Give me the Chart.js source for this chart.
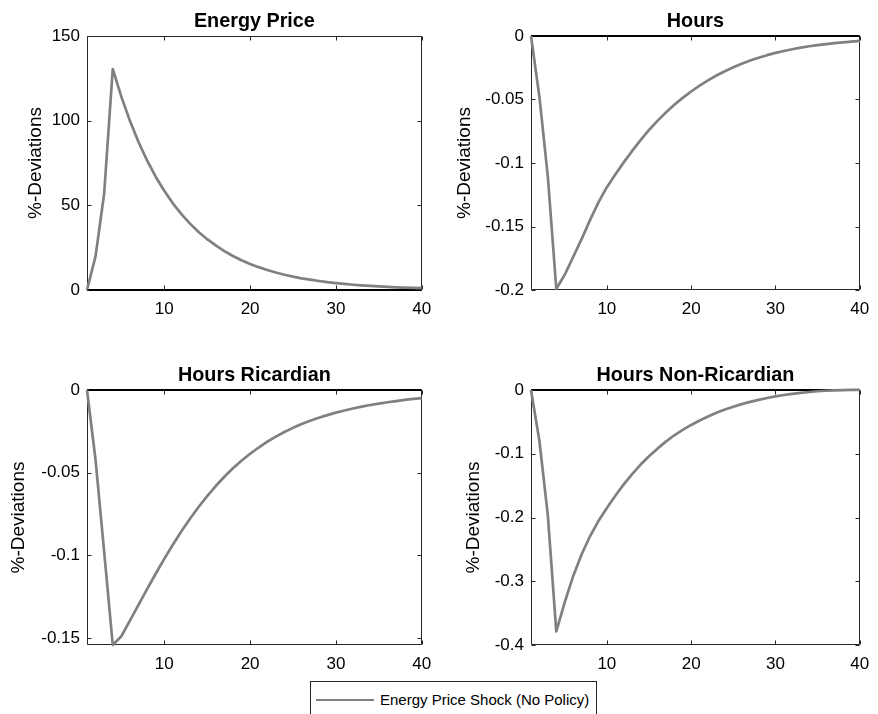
<!DOCTYPE html>
<html><head><meta charset="utf-8">
<script src="https://cdn.jsdelivr.net/npm/chart.js@4.4.1/dist/chart.umd.min.js"></script>
<style>
html,body{margin:0;padding:0;background:#fff;width:878px;height:714px;overflow:hidden;position:relative;font-family:"Liberation Sans",Arial,sans-serif;}
.pane{position:absolute;}
.pane canvas{display:block;}
#legend{position:absolute;left:310px;top:681px;width:287px;height:50px;border:1px solid #262626;background:#fff;box-sizing:border-box;}
#legend .swatch{position:absolute;left:5px;top:17px;width:58px;height:0;border-top:2.6px solid #808080;}
#legend .txt{position:absolute;left:69px;top:9px;font-size:15px;line-height:18px;color:#000;white-space:nowrap;}
</style></head><body>
<div class="pane" style="left:0;top:0"><canvas id="c1" width="440" height="340"></canvas></div>
<div class="pane" style="left:440px;top:0"><canvas id="c2" width="438" height="340"></canvas></div>
<div class="pane" style="left:0;top:354px"><canvas id="c3" width="440" height="340"></canvas></div>
<div class="pane" style="left:440px;top:354px"><canvas id="c4" width="438" height="340"></canvas></div>
<div id="legend"><div class="swatch"></div><div class="txt" id="legendText"></div></div>
<script>
// ---------------- data ----------------
const periods = [1,2,3,4,5,6,7,8,9,10,11,12,13,14,15,16,17,18,19,20,21,22,23,24,25,26,27,28,29,30,31,32,33,34,35,36,37,38,39,40];
const energyPrice = [0,20,57,130.5,114.2,99.9,87.4,76.5,66.9,58.6,51.2,44.8,39.2,34.3,30.0,26.3,23.0,20.1,17.6,15.4,13.5,11.8,10.3,9.0,7.9,6.9,6.1,5.3,4.6,4.1,3.6,3.1,2.7,2.4,2.1,1.8,1.6,1.4,1.2,1.1];
const hours = [0,-0.048,-0.111,-0.199,-0.188,-0.174,-0.160,-0.145,-0.131,-0.119,-0.109,-0.0995,-0.0905,-0.082,-0.074,-0.0668,-0.0602,-0.0542,-0.0487,-0.0437,-0.0391,-0.0349,-0.0311,-0.0277,-0.0246,-0.0218,-0.0193,-0.0171,-0.0151,-0.0133,-0.0118,-0.0104,-0.0092,-0.0081,-0.0072,-0.0064,-0.0056,-0.005,-0.0044,-0.0039];
const hoursRicardian = [0,-0.0425,-0.098,-0.1543,-0.149,-0.1395,-0.130,-0.1205,-0.1112,-0.1022,-0.0936,-0.0855,-0.0779,-0.0708,-0.0642,-0.0581,-0.0525,-0.0474,-0.0428,-0.0386,-0.0348,-0.0313,-0.0282,-0.0254,-0.0229,-0.0206,-0.0186,-0.0168,-0.0152,-0.0137,-0.0124,-0.0112,-0.0101,-0.0091,-0.0082,-0.0074,-0.0067,-0.006,-0.0054,-0.0049];
const hoursNonRicardian = [0,-0.08,-0.197,-0.3785,-0.333,-0.292,-0.258,-0.2295,-0.2055,-0.185,-0.166,-0.148,-0.132,-0.117,-0.104,-0.092,-0.081,-0.071,-0.0625,-0.0548,-0.0478,-0.0415,-0.0358,-0.0307,-0.0262,-0.0222,-0.0186,-0.0154,-0.0126,-0.0101,-0.0079,-0.006,-0.0044,-0.0031,-0.002,-0.0012,-0.0006,-0.0002,0.0001,0.0003];
const xTicks = [10,20,30,40];
const yTicksEnergy = [0,50,100,150];
const yTicksHours = [-0.2,-0.15,-0.1,-0.05,0];
const yTicksRicardian = [-0.15,-0.1,-0.05,0];
const yTicksNonRicardian = [-0.4,-0.3,-0.2,-0.1,0];
const panelTitles = ["Energy Price","Hours","Hours Ricardian","Hours Non-Ricardian"];
const yAxisLabel = "%-Deviations";
const seriesLabel = "Energy Price Shock (No Policy)";

// ---------------- rendering ----------------
const FONT = "'Liberation Sans', Arial, sans-serif";
document.getElementById('legendText').textContent = seriesLabel;

const boxTicks = {
  id: 'boxTicks',
  beforeDatasetsDraw(chart) {
    const {ctx, chartArea: a} = chart;
    const x = chart.scales.x, y = chart.scales.y;
    ctx.save();
    ctx.strokeStyle = '#262626';
    ctx.lineWidth = 1;
    const l = Math.round(a.left) + 0.5, t = Math.round(a.top) + 0.5;
    const r = Math.round(a.right) - 0.5, b = Math.round(a.bottom) - 0.5;
    ctx.beginPath();
    ctx.rect(l, t, r - l, b - t);
    const L = 4;
    for (const tk of x.ticks) {
      const px = Math.round(x.getPixelForValue(tk.value)) + 0.5;
      ctx.moveTo(px, b); ctx.lineTo(px, b - L);
      ctx.moveTo(px, t); ctx.lineTo(px, t + L);
    }
    for (const tk of y.ticks) {
      const py = Math.round(y.getPixelForValue(tk.value)) + 0.5;
      ctx.moveTo(l, py); ctx.lineTo(l + L, py);
      ctx.moveTo(r, py); ctx.lineTo(r - L, py);
    }
    ctx.stroke();
    ctx.restore();
  }
};

function makeChart(id, title, values, yMin, yMax, yTicks, lay) {
  const pts = periods.map((p, i) => ({x: p, y: values[i]}));
  const zero = [{x: periods[0], y: 0}, {x: periods[periods.length - 1], y: 0}];
  return new Chart(document.getElementById(id), {
    type: 'line',
    data: {
      datasets: [
        {label: seriesLabel, data: pts, borderColor: '#808080', borderWidth: 2.7, pointRadius: 0, tension: 0, clip: 8, borderJoinStyle: 'round'},
        {label: 'zero', data: zero, borderColor: '#000000', borderWidth: 2.2, pointRadius: 0, clip: 8}
      ]
    },
    options: {
      responsive: false,
      animation: false,
      events: [],
      layout: {padding: {left: lay.padL, right: lay.padR, top: 0, bottom: lay.padB}},
      plugins: {legend: {display: false}, tooltip: {enabled: false}, title: {display: false}},
      scales: {
        x: {
          type: 'linear', position: 'bottom', min: periods[0], max: periods[periods.length - 1],
          grid: {display: false, drawTicks: false}, border: {display: false},
          ticks: {font: {family: FONT, size: 17}, color: '#000', padding: 8.8, maxRotation: 0, autoSkip: false, callback: v => String(v)},
          afterBuildTicks: s => { s.ticks = xTicks.map(v => ({value: v})); },
          afterFit: s => { s.height = 30; }
        },
        xTop: {
          type: 'linear', position: 'top', min: periods[0], max: periods[periods.length - 1],
          grid: {display: false, drawTicks: false}, border: {display: false},
          ticks: {display: false},
          title: {display: true, text: title, color: '#000', font: {family: FONT, size: 19.8, weight: 'bold'}, padding: {top: 10, bottom: 0}},
          afterFit: s => { s.height = 36; }
        },
        y: {
          type: 'linear', position: 'left', min: yMin, max: yMax,
          grid: {display: false, drawTicks: false}, border: {display: false},
          ticks: {font: {family: FONT, size: 17}, color: '#000', padding: 7, callback: v => String(v)},
          afterBuildTicks: s => { s.ticks = yTicks.map(v => ({value: v})); },
          title: {display: true, text: yAxisLabel, color: '#000', font: {family: FONT, size: 19}, padding: {top: 0, bottom: 0}},
          afterFit: s => { s.width = lay.yW; }
        }
      }
    },
    plugins: [boxTicks]
  });
}

makeChart('c1', panelTitles[0], energyPrice, 0, 150, yTicksEnergy, {padL: 24.6, yW: 62.4, padR: 17, padB: 20});
makeChart('c2', panelTitles[1], hours, -0.2, 0, yTicksHours, {padL: 13.6, yW: 77.4, padR: 12, padB: 20});
makeChart('c3', panelTitles[2], hoursRicardian, -0.1543, 0, yTicksRicardian, {padL: 7.6, yW: 79.4, padR: 17, padB: 19});
makeChart('c4', panelTitles[3], hoursNonRicardian, -0.4, 0, yTicksNonRicardian, {padL: 22.6, yW: 68.4, padR: 12, padB: 19});
</script>
</body></html>
